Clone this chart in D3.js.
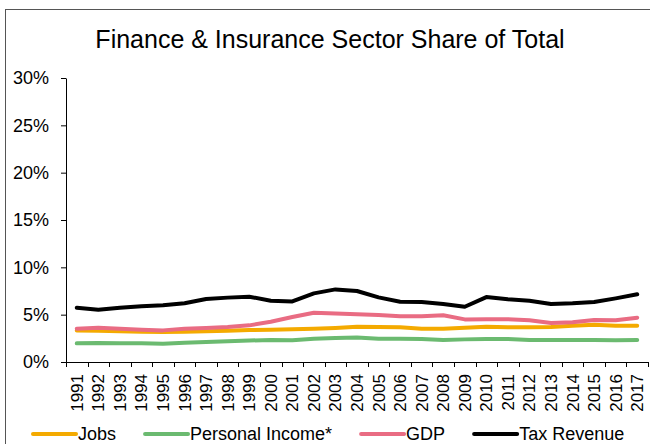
<!DOCTYPE html>
<html>
<head>
    <meta charset="utf-8" />
    <script src="https://cdn.jsdelivr.net/npm/d3@7"></script>
    <style>
        body { margin: 0; background: #fff; }
        svg text { font-family: "Liberation Sans", Arial, sans-serif; fill: #000; }
    </style>
</head>
<body>
    <script>
        var years = ["1991","1992","1993","1994","1995","1996","1997","1998","1999","2000","2001","2002","2003","2004",
                     "2005","2006","2007","2008","2009","2010","2011","2012","2013","2014","2015","2016","2017"];
        var jobs = [3.34,3.30,3.24,3.20,3.17,3.20,3.24,3.30,3.38,3.40,3.45,3.52,3.60,3.73,
                    3.70,3.66,3.52,3.52,3.63,3.73,3.66,3.66,3.70,3.84,3.94,3.84,3.84];
        var personalIncome = [1.97,2.00,1.97,1.97,1.94,2.04,2.10,2.20,2.27,2.32,2.30,2.46,2.53,2.60,
                              2.46,2.46,2.43,2.32,2.39,2.43,2.43,2.32,2.32,2.32,2.32,2.29,2.32];
        var gdp = [3.52,3.63,3.52,3.41,3.34,3.52,3.60,3.70,3.87,4.26,4.75,5.20,5.13,5.05,
                   4.96,4.82,4.82,4.93,4.50,4.52,4.52,4.40,4.12,4.19,4.43,4.40,4.68];
        var taxRevenue = [5.73,5.52,5.73,5.90,6.00,6.20,6.65,6.80,6.90,6.47,6.40,7.25,7.67,7.50,
                          6.83,6.37,6.34,6.12,5.84,6.86,6.62,6.48,6.12,6.20,6.34,6.72,7.15];
        var yTicks = [0, 5, 10, 15, 20, 25, 30];
        var seriesNames = ["Jobs", "Personal Income*", "GDP", "Tax Revenue"];
        var seriesColors = ["#F4AA00", "#6BBA70", "#E96C83", "#000000"];

        var series = [jobs, personalIncome, gdp, taxRevenue];

        var svgWidth = 650,
            svgHeight = 444,
            margin = {top: 78, right: 2, bottom: 82, left: 66},
            width = svgWidth - margin.left - margin.right,
            height = svgHeight - margin.top - margin.bottom;

        var svg = d3.select("body").append("svg")
            .attr("width", svgWidth)
            .attr("height", svgHeight);

        // outer chart border (runs off the right and bottom)
        svg.append("rect")
            .attr("x", 5.5).attr("y", 9.5)
            .attr("width", 700).attr("height", 500)
            .attr("fill", "none")
            .attr("stroke", "#555");

        svg.append("text")
            .attr("x", 330)
            .attr("y", 48)
            .attr("text-anchor", "middle")
            .style("font-size", "25px")
            .text("Finance & Insurance Sector Share of Total");

        var x = d3.scaleBand()
            .domain(years)
            .range([margin.left, margin.left + width])
            .padding(0);

        var y = d3.scaleLinear()
            .domain([0, 30])
            .range([margin.top + height, margin.top]);

        // y axis
        var yAxis = svg.append("g")
            .attr("transform", "translate(" + margin.left + ",0)")
            .call(d3.axisLeft(y)
                .tickValues(yTicks)
                .tickFormat(function(d) { return d + "%"; })
                .tickSize(5)
                .tickSizeOuter(0)
                .tickPadding(12));
        yAxis.selectAll("text")
            .style("font-size", "18px")
            .style("font-family", "Liberation Sans, Arial, sans-serif");
        yAxis.selectAll("line, path").attr("stroke", "#000");

        // x axis, ticks on category boundaries
        var xAxis = svg.append("g")
            .attr("transform", "translate(0," + (margin.top + height) + ")");
        xAxis.append("line")
            .attr("x1", x.range()[0]).attr("x2", x.range()[1])
            .attr("y1", 0.5).attr("y2", 0.5)
            .attr("stroke", "#000");
        var bounds = years.map(function(d) { return x(d); }).concat([x.range()[1]]);
        xAxis.selectAll(".bound")
            .data(bounds)
            .enter().append("line")
            .attr("class", "bound")
            .attr("x1", function(d) { return Math.round(d) + 0.5; })
            .attr("x2", function(d) { return Math.round(d) + 0.5; })
            .attr("y1", 0).attr("y2", 5)
            .attr("stroke", "#000");
        xAxis.selectAll(".xlabel")
            .data(years)
            .enter().append("text")
            .attr("class", "xlabel")
            .attr("transform", function(d) {
                return "translate(" + (x(d) + x.bandwidth() / 2) + ",12) rotate(-90)";
            })
            .attr("dy", "0.35em")
            .attr("text-anchor", "end")
            .style("font-size", "17px")
            .text(function(d) { return d; });

        var line = d3.line()
            .x(function(d, i) { return x(years[i]) + x.bandwidth() / 2; })
            .y(function(d) { return y(d); });

        svg.selectAll(".series")
            .data(series)
            .enter().append("path")
            .attr("class", "series")
            .attr("d", line)
            .attr("fill", "none")
            .attr("stroke", function(d, i) { return seriesColors[i]; })
            .attr("stroke-width", 4)
            .attr("stroke-linejoin", "round")
            .attr("stroke-linecap", "round");

        // legend
        var legend = svg.append("g").attr("class", "legend");
        var lx = 33, ly = 434;
        seriesNames.forEach(function(name, i) {
            legend.append("line")
                .attr("x1", lx).attr("x2", lx + 43)
                .attr("y1", ly).attr("y2", ly)
                .attr("stroke", seriesColors[i])
                .attr("stroke-width", 4)
                .attr("stroke-linecap", "round");
            var t = legend.append("text")
                .attr("x", lx + 45)
                .attr("y", ly + 6)
                .style("font-size", "18px")
                .text(name);
            lx += 45 + t.node().getComputedTextLength() + 29;
        });
    </script>
</body>
</html>
